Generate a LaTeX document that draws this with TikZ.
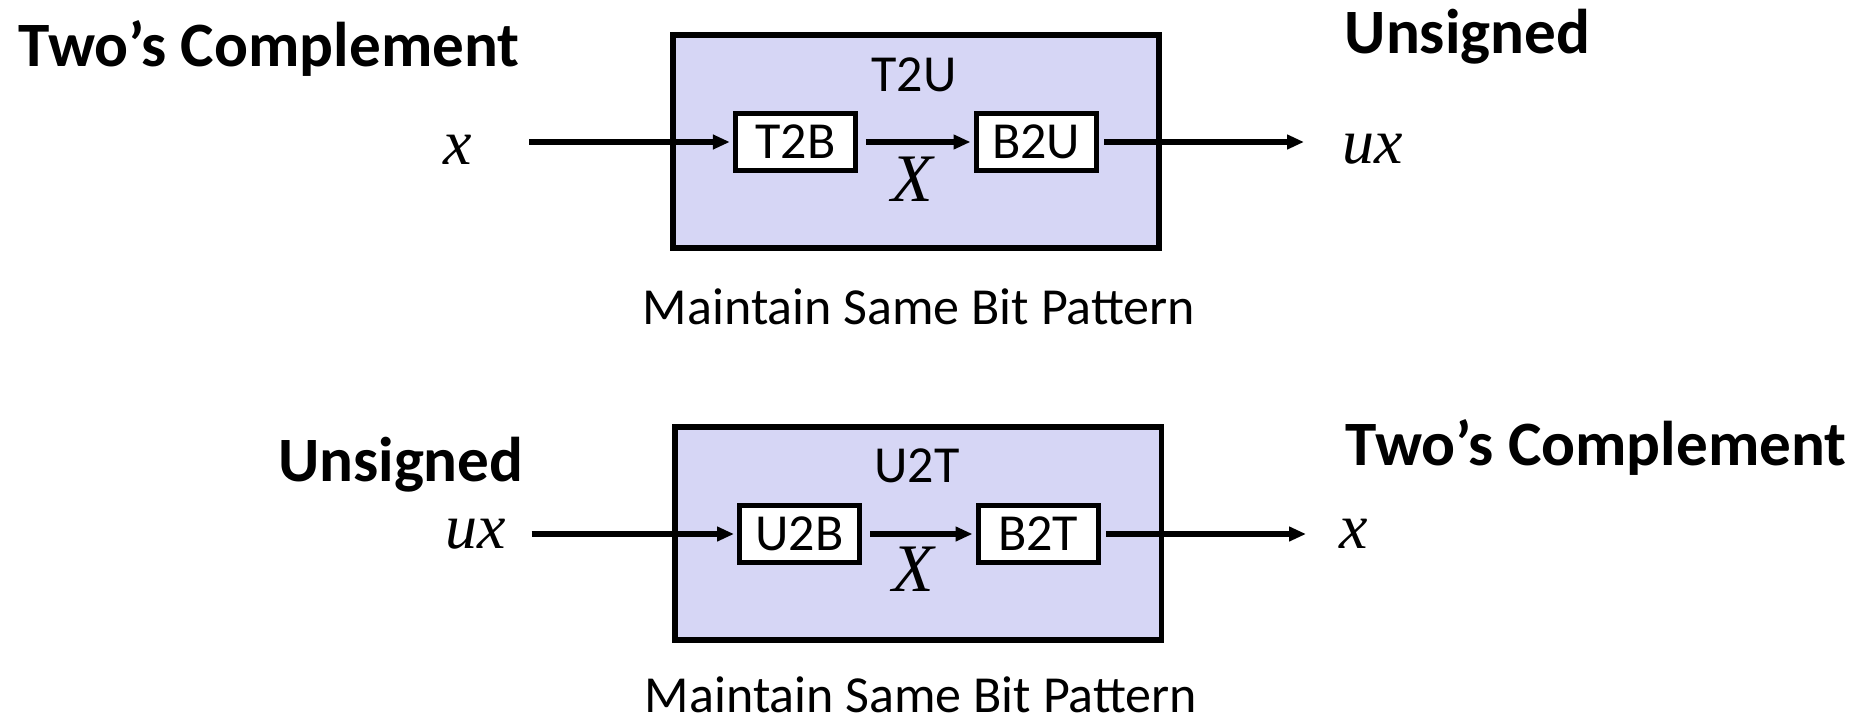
\documentclass[tikz,border=0pt]{standalone}
\usepackage{fontspec}
\setmainfont{Carlito}
\newfontfamily\varfont{Liberation Serif}
\usetikzlibrary{arrows.meta}

\definecolor{boxfill}{RGB}{214,214,245}

\tikzset{every picture/.style={line width=0.75pt}}
\tikzset{
  outerbox/.style={draw, line width=2.8pt, fill=boxfill, minimum width=243.2pt, minimum height=106.5pt, inner sep=0pt},
  bitbox/.style={draw, line width=2.5pt, fill=white, minimum width=60pt, minimum height=28.75pt, inner sep=0pt, font=\fontsize{26}{31}\selectfont},
  flow/.style={line width=2.7pt, -{Triangle[length=8.5pt,width=7pt]}},
  head/.style={inner sep=0pt, font=\fontsize{31.6}{37}\selectfont\bfseries},
  plain/.style={inner sep=0pt, font=\fontsize{26}{31}\selectfont},
  var/.style={inner sep=0pt, font=\fontsize{32}{38}\selectfont\varfont\itshape},
  bigvar/.style={var, font=\fontsize{34}{40}\selectfont\varfont\itshape},
}

\begin{document}
\begin{tikzpicture}[x=0.5pt,y=0.5pt,yscale=-1,xscale=1]
\useasboundingbox (0,0) rectangle (1855,717);

% top: two's complement to unsigned
\node[outerbox] (t2u) at (916,141.4) {};
\node[plain, anchor=base] (t2ulab) at (914,91.7) {T2U};
\node[bitbox] (t2b) at (795.3,142) {T2B};
\node[bitbox] (b2u) at (1036,142) {B2U};
\node[head, anchor=base west] (tcleft) at (18,66.7) {Two’s Complement};
\node[head, anchor=base west] (unsright) at (1344,53.3) {Unsigned};
\node[var, anchor=base] (xin) at (457.5,164) {x};
\node[var, anchor=base west] (uxout) at (1342,163) {ux};
\node[bigvar, anchor=base] (xmid) at (912,201.7) {X};
\node[plain, anchor=base] (same1) at (919,324) {Maintain Same Bit Pattern};
\coordinate (in1) at (529,142);
\coordinate (out1) at (1304,142);

\draw[flow, shorten >=1.5pt] (in1) -- (t2b);
\draw[flow, shorten <=4pt, shorten >=1.5pt] (t2b) -- (b2u);
\draw[flow, shorten <=2.8pt] (b2u) -- (out1);

% bottom: unsigned to two's complement
\node[outerbox] (u2t) at (918.4,533.4) {};
\node[plain, anchor=base] (u2tlab) at (917,482.7) {U2T};
\node[bitbox] (u2b) at (799.5,534) {U2B};
\node[bitbox] (b2t) at (1038,534) {B2T};
\node[head, anchor=base east] (unsleft) at (524.3,481.7) {Unsigned};
\node[head, anchor=base west] (tcright) at (1345,465) {Two’s Complement};
\node[var, anchor=base east] (uxin) at (507,548) {ux};
\node[var, anchor=base] (xout) at (1354,548) {x};
\node[bigvar, anchor=base] (xmid2) at (913,591.7) {X};
\node[plain, anchor=base] (same2) at (921,712) {Maintain Same Bit Pattern};
\coordinate (in2) at (531.5,534);
\coordinate (out2) at (1306,534);

\draw[flow, shorten >=1.5pt] (in2) -- (u2b);
\draw[flow, shorten <=4pt, shorten >=1.5pt] (u2b) -- (b2t);
\draw[flow, shorten <=2.8pt] (b2t) -- (out2);

\end{tikzpicture}
\end{document}
